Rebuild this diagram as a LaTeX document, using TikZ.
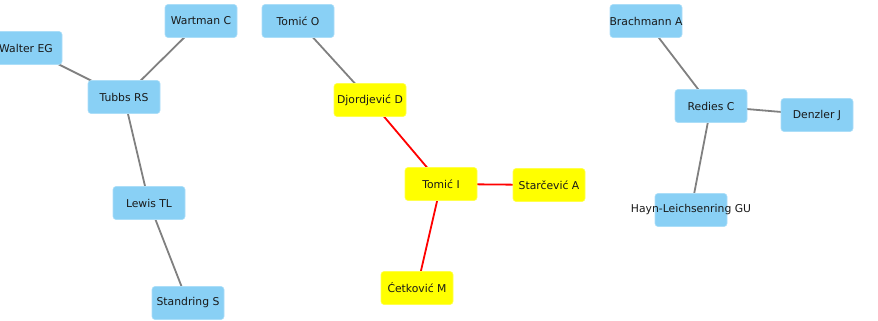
\documentclass[tikz,border=0pt]{standalone}
\usepackage{fontspec}
\setmainfont{DejaVu Sans}
\usetikzlibrary{backgrounds}
\definecolor{authblue}{RGB}{137,208,245}
\definecolor{authyellow}{RGB}{255,255,0}
\definecolor{linkgray}{RGB}{128,128,128}
\definecolor{linkred}{RGB}{255,0,0}
\definecolor{labelink}{RGB}{25,25,25}
\tikzset{
  author/.style={rectangle, rounded corners=3pt, minimum width=72pt, minimum height=33pt,
    inner sep=0pt, font=\fontsize{10.8}{12}\selectfont, text=labelink, line width=0.6pt},
  plain/.style={author, fill=authblue, draw=authblue!70!white},
  focus/.style={author, fill=authyellow, draw=authyellow!70!white},
  coauth/.style={draw=linkgray, line width=1.8pt},
  keylink/.style={draw=linkred, line width=1.8pt},
}
\begin{document}
\begin{tikzpicture}[x=1pt, y=-1pt]
  \useasboundingbox (0,0) rectangle (878,321);
  \clip (0,0) rectangle (878,321);

  % first cluster
  \node[plain] (walter) at (26,48) {Walter EG};
  \node[plain] (wartman) at (201,21) {Wartman C};
  \node[plain] (tubbs) at (124,97) {Tubbs RS};
  \node[plain] (lewis) at (149,203) {Lewis TL};
  \node[plain] (standring) at (188,303) {Standring S};

  % central cluster
  \node[plain] (tomico) at (298,21) {Tomić O};
  \node[focus] (djordjevic) at (370,100) {Djordjević D};
  \node[focus] (tomici) at (441,184) {Tomić I};
  \node[focus] (starcevic) at (549,185) {Starčević A};
  \node[focus] (cetkovic) at (417,288) {Ćetković M};

  % right cluster
  \node[plain] (brachmann) at (646,21) {\makebox[0pt][c]{Brachmann A}};
  \node[plain] (redies) at (711,106) {Redies C};
  \node[plain] (denzler) at (817,115) {Denzler J};
  \node[plain] (hayn) at (691,210) {\makebox[0pt][c]{Hayn-Leichsenring GU}};

  \begin{scope}[on background layer]
    \draw[coauth] (walter.center) -- (tubbs.center);
    \draw[coauth] (wartman.center) -- (tubbs.center);
    \draw[coauth] (tubbs.center) -- (lewis.center);
    \draw[coauth] (lewis.center) -- (standring.center);

    \draw[coauth] (tomico.center) -- (djordjevic.center);
    \draw[keylink] (djordjevic.center) -- (tomici.center);
    \draw[keylink] (tomici.center) -- (starcevic.center);
    \draw[keylink] (tomici.center) -- (cetkovic.center);

    \draw[coauth] (brachmann.center) -- (redies.center);
    \draw[coauth] (redies.center) -- (denzler.center);
    \draw[coauth] (redies.center) -- (hayn.center);
  \end{scope}
\end{tikzpicture}
\end{document}
